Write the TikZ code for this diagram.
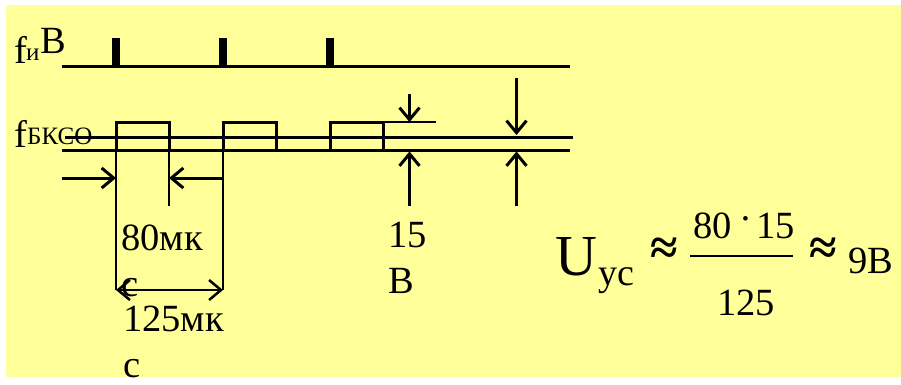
\documentclass[tikz,border=0pt]{standalone}
\usepackage{fontspec}
\setmainfont{Liberation Serif}
\usetikzlibrary{arrows.meta}
\definecolor{paleyellow}{HTML}{FFFF99}

\begin{document}
\begin{tikzpicture}[
  x=1pt, y=-1pt,
  txt/.style     = {inner sep=0pt, anchor=base west},
  big/.style     = {txt, font=\fontsize{38.5}{46}\selectfont},
  small/.style   = {txt, font=\fontsize{25}{28}\selectfont},
  wrapped/.style = {big, align=left, anchor=north west},
  wave/.style    = {line width=3pt, line join=miter},
  guide/.style   = {line width=2pt},
  arr/.style     = {-{Straight Barb[length=12pt, width=20pt]}, line width=3pt},
  biarr/.style   = {{Straight Barb[length=12pt, width=20pt]}-{Straight Barb[length=12pt, width=20pt]}, line width=2.5pt},
]
\useasboundingbox (0,0) rectangle (901,384);
\fill[paleyellow] (6,5) rectangle (901,377);

% Pulse train, pulses every 107 px
\draw[wave] (62,66) -- (570,66);
\foreach \pos in {116, 223, 330}
  \fill (\pos-4,38) rectangle (\pos+4,66);

% Gate waveform and level lines
\draw[wave] (62,150) -- (570,150);
\foreach \pos in {116, 223, 330}
  \draw[wave] (\pos,150) -- (\pos,122) -- (\pos+53,122) -- (\pos+53,150);
\draw[wave] (65,137.5) -- (573,137.5);
\draw[line width=1.5pt] (383,122) -- (436,122);

% Coordinates for the dimension lines
\coordinate (gateL)  at (116,290);
\coordinate (gateR)  at (223,290);
\coordinate (widthL) at (116,178);
\coordinate (widthR) at (169,178);
\coordinate (startL) at (62,178);
\coordinate (startR) at (223,178);

\draw[guide] (116,150) -- (gateL);
\draw[guide] (223,150) -- (gateR);
\draw[guide] (169,150) -- (169,206);

\draw[arr]   (startL) -- (widthL);
\draw[arr]   (startR) -- (widthR);
\draw[biarr] (gateL) -- (gateR);

% Level arrows
\draw[arr] (409.5,94)  -- (409.5,122);
\draw[arr] (409.5,206) -- (409.5,151.5);
\draw[arr] (516.5,78)  -- (516.5,135);
\draw[arr] (516.5,206) -- (516.5,151.5);

% Labels
\node[big]   (fone)  at (14,63)  {f};
\node[small] (fonei) at (26,60)  {и};
\node[big]   (fonev) at (40,53)  {В};
\node[big]   (ftwo)  at (14,147) {f};
\node[small] (ftwob) at (27,144) {БКСО};

\node[wrapped] (lblwidth) at (121,225) {80мк\\с};
\node[wrapped] (lblgate)  at (123,306) {125мк\\с};
\node[wrapped] (lbllevel) at (388,222) {15\\В};

% Formula
\node[txt, font=\fontsize{58}{60}\selectfont] (uname) at (555,275) {U};
\node[txt, font=\fontsize{38}{40}\selectfont] (usub)  at (598,285) {ус};
\node[txt, font=\fontsize{50}{60}\selectfont\bfseries] (apone) at (650,264) {≈};
\node[big] (numer) at (693,238) {80};
\node[big] (numdot) at (739,231) {·};
\node[big] (numtwo) at (756,238) {15};
\node[big] (denom) at (717,315) {125};
\draw[line width=2pt] (690,256) -- (793,256);
\node[txt, font=\fontsize{50}{60}\selectfont\bfseries] (aptwo) at (809,264) {≈};
\node[big] (result) at (848,273) {9В};
\end{tikzpicture}
\end{document}
